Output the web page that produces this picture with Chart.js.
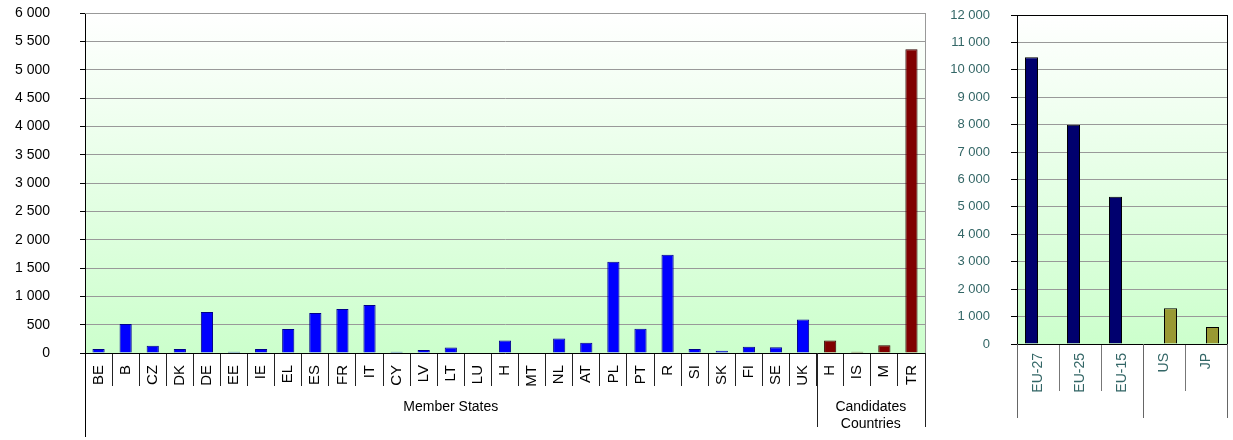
<!DOCTYPE html>
<html>
<head>
<meta charset="utf-8">
<script src="https://cdn.jsdelivr.net/npm/chart.js@4.4.1/dist/chart.umd.min.js"></script>
<style>
  html, body { margin: 0; padding: 0; background: #fff; }
  #wrap { position: relative; width: 1233px; height: 440px; }
  canvas { position: absolute; top: 0; }
  #countryChart { left: 0; }
  #totalChart { left: 935px; }
</style>
</head>
<body>
<div id="wrap">
  <canvas id="countryChart" width="935" height="440"></canvas>
  <canvas id="totalChart" width="298" height="440"></canvas>
</div>
<script>
// Datos por país
var countries = ['BE', 'B', 'CZ', 'DK', 'DE', 'EE', 'IE', 'EL', 'ES', 'FR', 'IT', 'CY', 'LV', 'LT', 'LU',
                 'H', 'MT', 'NL', 'AT', 'PL', 'PT', 'R', 'SI', 'SK', 'FI', 'SE', 'UK',
                 'H', 'IS', 'M', 'TR'];
var countryValues = [70, 510, 130, 70, 725, 20, 70, 425, 705, 775, 845, 20, 55, 95, 0,
                     220, 0, 255, 180, 1610, 430, 1735, 70, 40, 110, 100, 590,
                     220, 20, 135, 5360];
var countryGroups = ['Member States', ['Candidates', 'Countries']];
var countryGroupSizes = [27, 4];
var countryTicks = [0, 500, 1000, 1500, 2000, 2500, 3000, 3500, 4000, 4500, 5000, 5500, 6000];

// Totales
var aggregates = ['EU-27', 'EU-25', 'EU-15', 'US', 'JP'];
var euValues = [10460, 8000, 5370, null, null];
var otherValues = [null, null, null, 1300, 620];
var aggregateGroupSizes = [3, 2];
var totalTicks = [0, 1000, 2000, 3000, 4000, 5000, 6000, 7000, 8000, 9000, 10000, 11000, 12000];

var FONT = '"Liberation Sans", Arial, sans-serif';
var TEAL = '#336666';

function fmt(v) {
    return String(v).replace(/\B(?=(\d{3})+(?!\d))/g, ' ');
}

// fondo degradado del área del gráfico
var gradientBg = {
    id: 'gradientBg',
    beforeDraw: function (chart) {
        var a = chart.chartArea, ctx = chart.ctx;
        var g = ctx.createLinearGradient(0, a.top, 0, a.bottom);
        g.addColorStop(0, '#ffffff');
        g.addColorStop(1, '#ccffcc');
        ctx.save();
        ctx.fillStyle = g;
        ctx.fillRect(a.left, a.top, a.right - a.left, a.bottom - a.top);
        ctx.restore();
    }
};

// borde derecho + grupos del eje x
var groupAxis = {
    id: 'groupAxis',
    afterDraw: function (chart, args, opts) {
        var ctx = chart.ctx, a = chart.chartArea, x = chart.scales.x;
        var half = (x.getPixelForValue(1) - x.getPixelForValue(0)) / 2;
        ctx.save();
        ctx.lineWidth = 1;
        // marco
        ctx.strokeStyle = opts.frameColor;
        ctx.beginPath();
        ctx.moveTo(a.left, Math.round(a.top) + 0.5);
        ctx.lineTo(a.right, Math.round(a.top) + 0.5);
        ctx.moveTo(Math.round(a.right) + 0.5, a.top);
        ctx.lineTo(Math.round(a.right) + 0.5, opts.bottom);
        ctx.stroke();
        // eje y extendido hacia abajo
        ctx.strokeStyle = opts.axisColor;
        ctx.beginPath();
        ctx.moveTo(Math.round(a.left) + 0.5, a.bottom);
        ctx.lineTo(Math.round(a.left) + 0.5, opts.firstBottom);
        ctx.stroke();
        var start = 0;
        ctx.font = opts.fontSize + 'px ' + FONT;
        ctx.fillStyle = opts.textColor;
        ctx.textAlign = 'center';
        ctx.textBaseline = 'middle';
        opts.sizes.forEach(function (n, i) {
            var end = start + n;
            var left = x.getPixelForValue(start) - half;
            var right = x.getPixelForValue(end - 1) + half;
            ctx.strokeStyle = opts.lineColor;
            ctx.beginPath();
            ctx.moveTo(Math.round(right) + 0.5, a.bottom);
            ctx.lineTo(Math.round(right) + 0.5, opts.bottom);
            ctx.stroke();
            var lines = [].concat(opts.labels[i] || []);
            lines.forEach(function (t, k) {
                ctx.fillText(t, (left + right) / 2, opts.labelY + k * opts.lineHeight);
            });
            start = end;
        });
        ctx.restore();
    }
};

function fixY(width) {
    return function (s) {
        s.width = width;
        s.paddingTop = 0;
        s.paddingBottom = 0;
    };
}

var ctx1 = document.getElementById('countryChart').getContext('2d');
var countryChart = new Chart(ctx1, {
    type: 'bar',
    data: {
        labels: countries,
        datasets: [{
            data: countryValues,
            backgroundColor: countries.map(function (c, i) { return i < countryGroupSizes[0] ? '#0000ff' : '#800000'; }),
            borderColor: countries.map(function (c, i) { return i < countryGroupSizes[0] ? '#00008a' : '#330000'; }),
            borderWidth: 1,
            borderSkipped: 'bottom',
            barPercentage: 0.45,
            categoryPercentage: 1
        }]
    },
    plugins: [gradientBg, groupAxis],
    options: {
        responsive: false,
        animation: false,
        layout: { padding: { top: 13, right: 10, left: 0, bottom: 0 } },
        plugins: {
            legend: { display: false },
            tooltip: { enabled: false },
            groupAxis: {
                sizes: countryGroupSizes, labels: countryGroups,
                frameColor: '#999999', axisColor: '#000000', lineColor: '#222222', textColor: '#000000',
                bottom: 427, firstBottom: 437, labelY: 407, lineHeight: 17, fontSize: 14
            }
        },
        scales: {
            x: {
                afterFit: function (s) { s.height = 87; },
                grid: { offset: true, drawOnChartArea: false, tickLength: 33, tickColor: '#222222' },
                border: { color: '#000000' },
                ticks: {
                    autoSkip: false, minRotation: 90, maxRotation: 90, padding: -21,
                    color: '#000000', font: { family: FONT, size: 15 }
                }
            },
            y: {
                min: 0, max: 6000,
                afterFit: fixY(85),
                afterBuildTicks: function (s) { s.ticks = countryTicks.map(function (v) { return { value: v }; }); },
                grid: { color: '#999999', tickColor: '#000000', tickLength: 5 },
                border: { color: '#000000' },
                ticks: {
                    padding: 30, color: '#000000', font: { family: FONT, size: 14 },
                    callback: function (v) { return fmt(v); }
                }
            }
        }
    }
});

var ctx2 = document.getElementById('totalChart').getContext('2d');
var totalChart = new Chart(ctx2, {
    type: 'bar',
    data: {
        labels: aggregates,
        datasets: [{
            data: euValues,
            backgroundColor: '#00006e',
            borderColor: '#000000',
            borderWidth: 1,
            borderSkipped: 'bottom',
            barPercentage: 1,
            categoryPercentage: 0.62
        }, {
            data: otherValues,
            backgroundColor: '#999933',
            borderColor: '#000000',
            borderWidth: 1,
            borderSkipped: 'bottom',
            barPercentage: 1,
            categoryPercentage: 0.62
        }]
    },
    plugins: [gradientBg, groupAxis],
    options: {
        responsive: false,
        animation: false,
        layout: { padding: { top: 15, right: 6, left: 0, bottom: 0 } },
        plugins: {
            legend: { display: false },
            tooltip: { enabled: false },
            groupAxis: {
                sizes: aggregateGroupSizes, labels: [],
                frameColor: '#000000', axisColor: '#666666', lineColor: '#666666', textColor: TEAL,
                bottom: 418, firstBottom: 418, labelY: 0, lineHeight: 0, fontSize: 13
            }
        },
        scales: {
            x: {
                afterFit: function (s) { s.height = 96; },
                grid: { offset: true, drawOnChartArea: false, tickLength: 47, tickColor: '#777777' },
                border: { color: '#000000' },
                ticks: {
                    autoSkip: false, minRotation: 90, maxRotation: 90, padding: -38,
                    color: TEAL, font: { family: FONT, size: 14 }
                }
            },
            y: {
                min: 0, max: 12000,
                afterFit: fixY(82),
                afterBuildTicks: function (s) { s.ticks = totalTicks.map(function (v) { return { value: v }; }); },
                grid: { color: '#999999', tickColor: '#000000', tickLength: 6 },
                border: { color: '#000000' },
                ticks: {
                    padding: 21, color: TEAL, font: { family: FONT, size: 13 },
                    callback: function (v) { return fmt(v); }
                }
            }
        }
    }
});
</script>
</body>
</html>
